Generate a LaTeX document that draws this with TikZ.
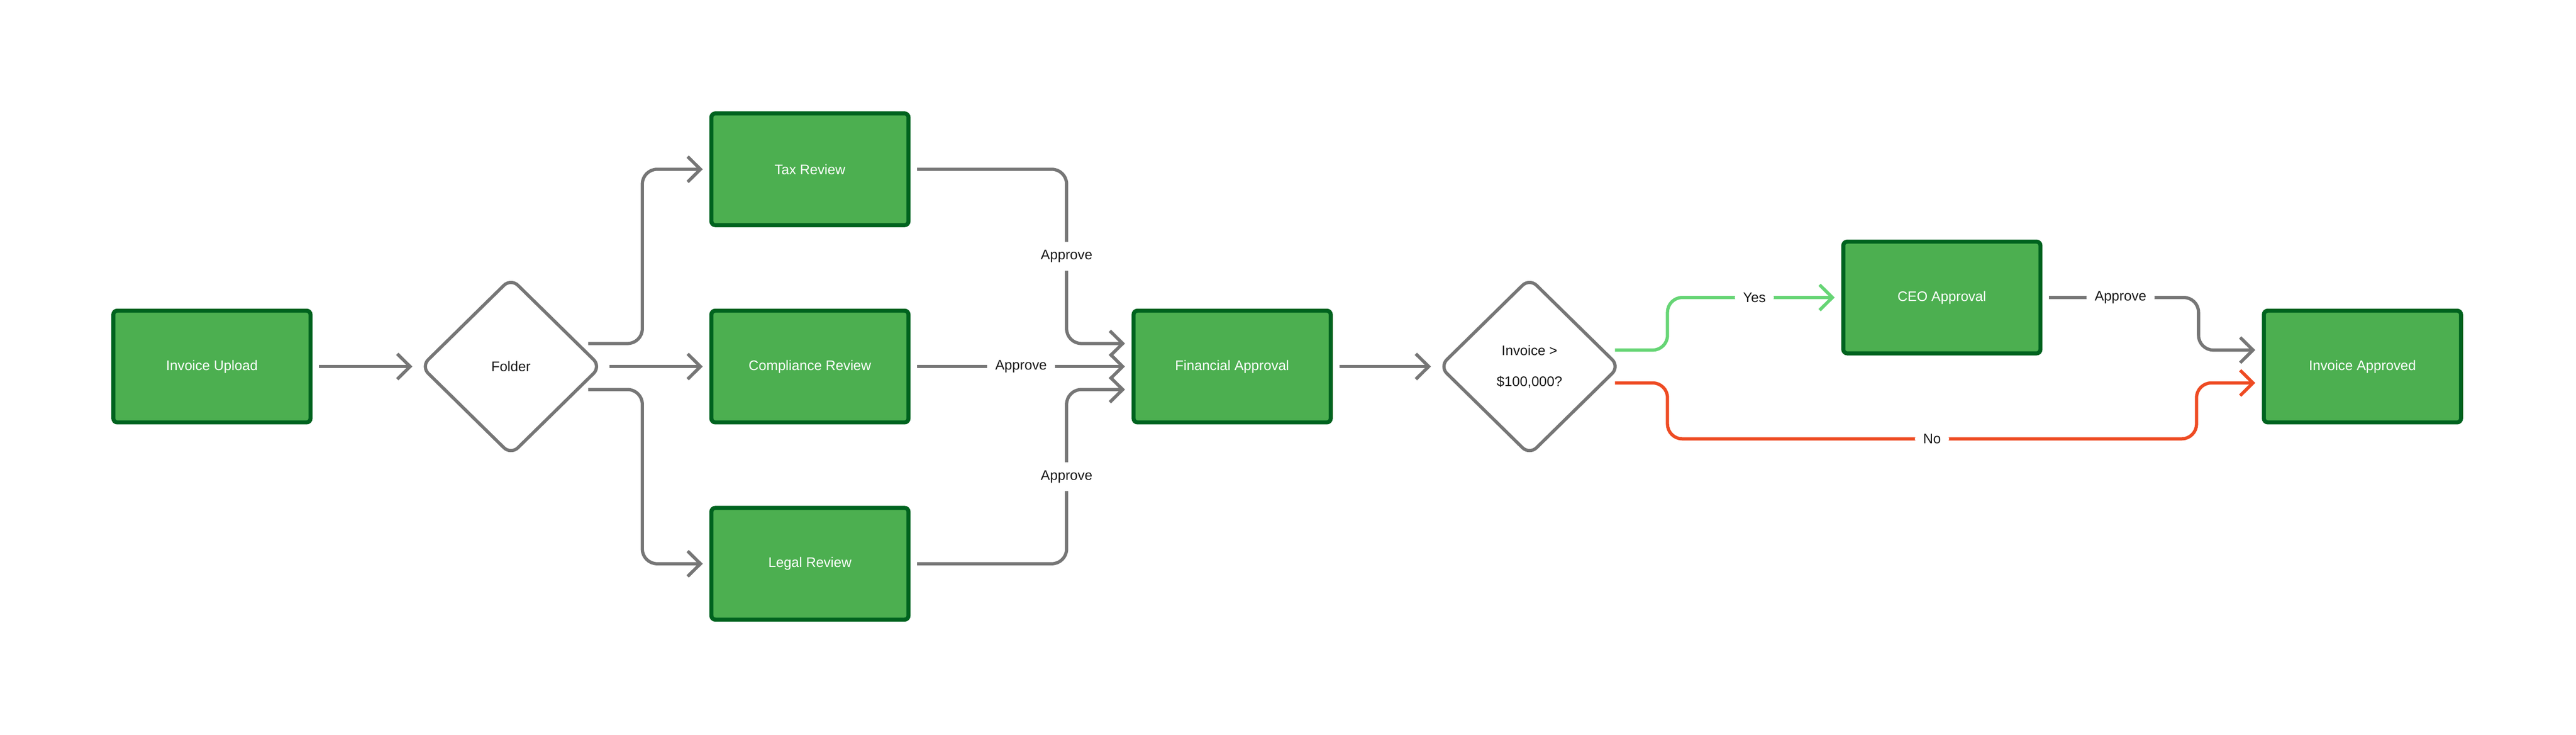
\documentclass[tikz,border=0pt]{standalone}
\usepackage{fontspec}
\setmainfont{Liberation Sans}
\usetikzlibrary{shapes.geometric,arrows.meta,calc}
\definecolor{boxfill}{HTML}{4CAF50}
\definecolor{boxline}{HTML}{00631F}
\definecolor{flowgray}{HTML}{767676}
\definecolor{yesgreen}{HTML}{66D575}
\definecolor{nored}{HTML}{EE4B23}
\begin{document}
\begin{tikzpicture}[font=\fontsize{12}{14}\selectfont]
\tikzstyle{taskbox} = [rectangle, rounded corners=0.12cm, fill=boxfill, draw=boxline, line width=3.5pt, minimum width=6cm, minimum height=3.4cm, text=white, inner sep=0pt] % task box
\tikzstyle{choice} = [diamond, rounded corners=0.3cm, draw=flowgray, line width=2.8pt, minimum width=5.5cm, minimum height=5.4cm, inner sep=0pt, align=center, text=black!90] % decision
\tikzstyle{flow} = [draw=flowgray, line width=2.8pt, rounded corners=0.45cm, -{Straight Barb[length=0.39cm,width=0.77cm]}, shorten >=0.2cm] % connector
\tikzstyle{tag} = [fill=white, text=black!90, inner sep=0.25cm] % connector label
\useasboundingbox (0,0) rectangle (78.4,-22.35);
%
\node[taskbox] (upload) at (6.45,-11.15) {Invoice Upload};
\node[choice] (folder) at (15.55,-11.15) {Folder};
\node[taskbox] (tax) at (24.65,-5.15) {Tax Review};
\node[taskbox] (comp) at (24.65,-11.15) {Compliance Review};
\node[taskbox] (legal) at (24.65,-17.15) {Legal Review};
\node[taskbox] (fin) at (37.5,-11.15) {Financial Approval};
\node[choice] (check) at (46.55,-11.15) {Invoice >\\[0.45cm]\$100,000?};
\node[taskbox] (ceo) at (59.1,-9.05) {CEO Approval};
\node[taskbox] (done) at (71.9,-11.15) {Invoice Approved};
\coordinate (nobend) at (66.85,-13.35);
%
\draw[flow, shorten <=0.2cm] (upload) -- (folder);
\draw[flow] ($(folder.east)+(-0.45,0.7)$) -- ++(1.65,0) |- (tax.west);
\draw[flow, shorten <=0.2cm] (folder.east) -- (comp.west);
\draw[flow] ($(folder.east)+(-0.45,-0.7)$) -- ++(1.65,0) |- (legal.west);
\draw[flow, shorten <=0.2cm] (tax.east) -- ++(4.75,0) |- node[tag, pos=0.25] {Approve} ($(fin.west)+(0,0.7)$);
\draw[flow, shorten <=0.2cm] (comp.east) -- node[tag] {Approve} (fin.west);
\draw[flow, shorten <=0.2cm] (legal.east) -- ++(4.75,0) |- node[tag, pos=0.25] {Approve} ($(fin.west)+(0,-0.7)$);
\draw[flow, shorten <=0.2cm] (fin.east) -- (check.west);
\draw[flow, draw=yesgreen] ($(check.east)+(-0.2,0.5)$) -- ++(1.6,0) |- node[tag, pos=0.75] {Yes} (ceo.west);
\draw[flow, draw=nored] ($(check.east)+(-0.2,-0.5)$) -- ++(1.6,0) |- node[tag, pos=0.75] {No} (nobend) |- ($(done.west)+(0,-0.5)$);
\draw[flow, shorten <=0.2cm] (ceo.east) -- node[tag] {Approve} ++(4.75,0) |- ($(done.west)+(0,0.5)$);
\end{tikzpicture}
\end{document}
